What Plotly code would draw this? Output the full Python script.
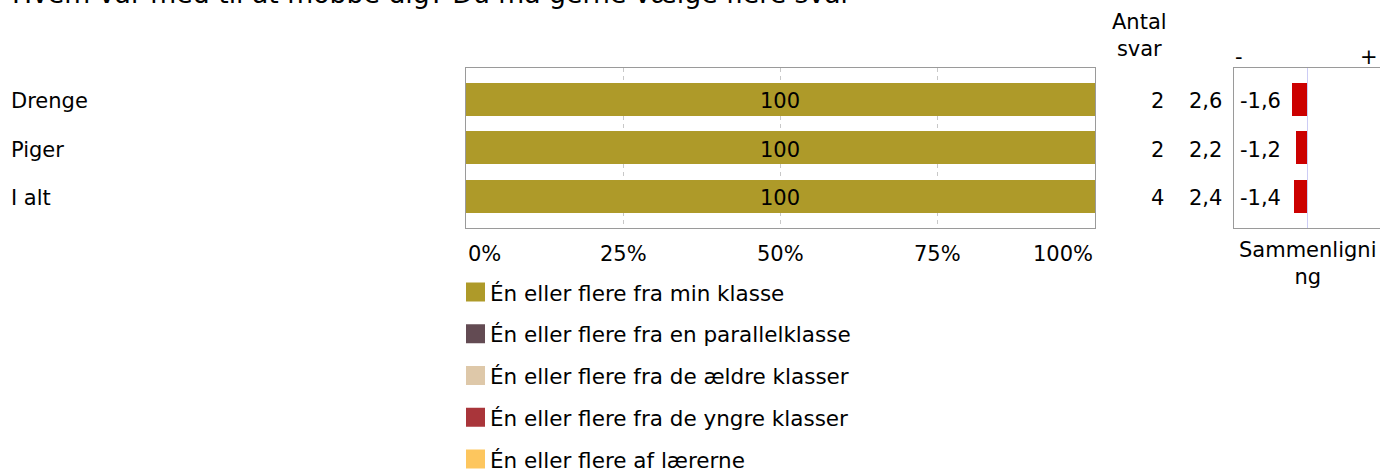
import plotly.graph_objects as go

# ---------------- data ----------------
title_text = "Hvem var med til at mobbe dig? Du må gerne vælge flere svar"
categories = ["Drenge", "Piger", "I alt"]
series_names = [
    "Én eller flere fra min klasse",
    "Én eller flere fra en parallelklasse",
    "Én eller flere fra de ældre klasser",
    "Én eller flere fra de yngre klasser",
    "Én eller flere af lærerne",
]
min_klasse = [100, 100, 100]
parallelklasse = [0, 0, 0]
aeldre_klasser = [0, 0, 0]
yngre_klasser = [0, 0, 0]
laererne = [0, 0, 0]
series_colors = ["#AE9A29", "#634B53", "#DEC8A9", "#A9353A", "#FDC65E"]

antal_svar = [2, 2, 4]
gennemsnit = [2.6, 2.2, 2.4]
sammenligning = [-1.6, -1.2, -1.4]

x_tick_vals = [0, 25, 50, 75, 100]
x_tick_labels = ["0%", "25%", "50%", "75%", "100%"]

# ---------------- layout helpers ----------------
W, H = 1380, 469
FONT = "DejaVu Sans"
FS = 21
FS_LEG = 21.5
ROW_SHIFT = -2


def px(x):
    return x / W


def py(y):
    return 1 - y / H


main_dom_x = [px(465.7), px(1095)]
comp_dom_x = [px(1234), 1.0]
dom_y = [py(227.7), py(68.3)]
y_range = [2.647, -0.64]
bar_gap = 0.313

fig = go.Figure()
annotations = []
shapes = []

all_series = [min_klasse, parallelklasse, aeldre_klasser, yngre_klasser, laererne]
base = [0] * len(categories)
for i, (name, vals) in enumerate(zip(series_names, all_series)):
    fig.add_trace(go.Bar(
        x=vals, y=categories, orientation="h", name=name,
        marker=dict(color=series_colors[i], line=dict(width=0)),
        hoverinfo="skip", showlegend=False,
        xaxis="x", yaxis="y",
    ))
    # value labels centred in each segment
    for j, (c, v) in enumerate(zip(categories, vals)):
        if v > 0:
            annotations.append(dict(
                text=str(v), xref="x", yref="y", x=base[j] + v / 2, y=c,
                yshift=ROW_SHIFT, xanchor="center", yanchor="middle",
                showarrow=False, font=dict(family=FONT, size=FS, color="black"),
            ))
        base[j] += v

fig.add_trace(go.Bar(
    x=sammenligning, y=categories, orientation="h",
    marker=dict(color="#CC0000", line=dict(width=0)),
    hoverinfo="skip", showlegend=False,
    xaxis="x2", yaxis="y2",
))

# title (cut off at top)
annotations.append(dict(
    text=title_text, xref="paper", yref="paper", x=px(10), y=py(-6),
    xanchor="left", yanchor="middle", showarrow=False,
    font=dict(family=FONT, size=26.7, color="black"),
))

# category labels
for c in categories:
    annotations.append(dict(
        text=c, xref="paper", yref="y", x=px(9), y=c, yshift=ROW_SHIFT,
        xanchor="left", yanchor="middle", showarrow=False,
        font=dict(family=FONT, size=FS, color="black"),
    ))

# x tick labels
for v, lab in zip(x_tick_vals, x_tick_labels):
    anchor = "left" if v == x_tick_vals[0] else ("right" if v == x_tick_vals[-1] else "center")
    annotations.append(dict(
        text=lab, xref="x", yref="paper", x=v, y=py(254),
        xanchor=anchor, yanchor="middle", showarrow=False,
        font=dict(family=FONT, size=FS, color="black"),
    ))

# Antal svar header
annotations.append(dict(
    text="Antal<br>svar", xref="paper", yref="paper", x=px(1139), y=py(35.5),
    xanchor="center", yanchor="middle", showarrow=False,
    font=dict(family=FONT, size=FS, color="black"),
))

# value columns
for c, n, g, s in zip(categories, antal_svar, gennemsnit, sammenligning):
    annotations.append(dict(
        text=str(n), xref="paper", yref="y", x=px(1166), y=c, yshift=ROW_SHIFT,
        xanchor="right", yanchor="middle", showarrow=False,
        font=dict(family=FONT, size=FS, color="black"),
    ))
    annotations.append(dict(
        text=f"{g:.1f}".replace(".", ","), xref="paper", yref="y", x=px(1224), y=c,
        yshift=ROW_SHIFT, xanchor="right", yanchor="middle", showarrow=False,
        font=dict(family=FONT, size=FS, color="black"),
    ))
    annotations.append(dict(
        text=f"{s:.1f}".replace(".", ","), xref="paper", yref="y", x=px(1238), y=c,
        yshift=ROW_SHIFT, xanchor="left", yanchor="middle", showarrow=False,
        font=dict(family=FONT, size=FS, color="black"),
    ))

# - / + markers above comparison panel
annotations.append(dict(
    text="-", xref="paper", yref="paper", x=px(1233), y=py(57),
    xanchor="left", yanchor="middle", showarrow=False,
    font=dict(family=FONT, size=FS, color="black"),
))
annotations.append(dict(
    text="+", xref="paper", yref="paper", x=px(1380), y=py(57),
    xanchor="right", yanchor="middle", showarrow=False,
    font=dict(family=FONT, size=FS, color="black"),
))

# Sammenligning label
annotations.append(dict(
    text="Sammenligni<br>ng", xref="paper", yref="paper", x=px(1307), y=py(263),
    xanchor="center", yanchor="middle", showarrow=False,
    font=dict(family=FONT, size=FS, color="black"),
))

# manual legend
for i, (name, col) in enumerate(zip(series_names, series_colors)):
    cy = 292 + i * 41.75
    shapes.append(dict(
        type="rect", xref="paper", yref="paper",
        x0=px(466), x1=px(485), y0=py(cy - 9.5), y1=py(cy + 9.5),
        fillcolor=col, line=dict(width=0),
    ))
    annotations.append(dict(
        text=name, xref="paper", yref="paper", x=px(488), y=py(cy + 1),
        xanchor="left", yanchor="middle", showarrow=False,
        font=dict(family=FONT, size=FS_LEG, color="black"),
    ))

fig.update_layout(
    width=W, height=H,
    margin=dict(l=0, r=0, t=0, b=0),
    paper_bgcolor="white", plot_bgcolor="white",
    barmode="stack", bargap=bar_gap,
    showlegend=False,
    font=dict(family=FONT, size=FS, color="black"),
    xaxis=dict(
        domain=main_dom_x, range=[0, 100], tickvals=x_tick_vals,
        showticklabels=False, ticks="",
        showgrid=True, gridcolor="#c8c8c8", griddash="4px,4px", gridwidth=1,
        zeroline=False, showline=True, mirror=True, linecolor="#9a9a9a", linewidth=1,
        anchor="y", fixedrange=True,
    ),
    yaxis=dict(
        domain=dom_y, range=y_range, type="category",
        showticklabels=False, ticks="", showgrid=False, zeroline=False,
        showline=True, mirror=True, linecolor="#9a9a9a", linewidth=1,
        anchor="x", fixedrange=True,
    ),
    xaxis2=dict(
        domain=comp_dom_x, range=[-7.5, 7.4],
        showticklabels=False, ticks="", showgrid=False,
        zeroline=True, zerolinecolor="#ccccf5", zerolinewidth=1,
        showline=True, mirror=True, linecolor="#9a9a9a", linewidth=1,
        anchor="y2", fixedrange=True,
    ),
    yaxis2=dict(
        domain=dom_y, range=y_range, type="category",
        showticklabels=False, ticks="", showgrid=False, zeroline=False,
        showline=True, mirror=True, linecolor="#9a9a9a", linewidth=1,
        anchor="x2", fixedrange=True,
    ),
    annotations=annotations,
    shapes=shapes,
)

fig.write_html(
    "out.html",
    config={"displayModeBar": False},
    post_script="document.body.style.margin='0';document.body.style.overflow='hidden';",
)
